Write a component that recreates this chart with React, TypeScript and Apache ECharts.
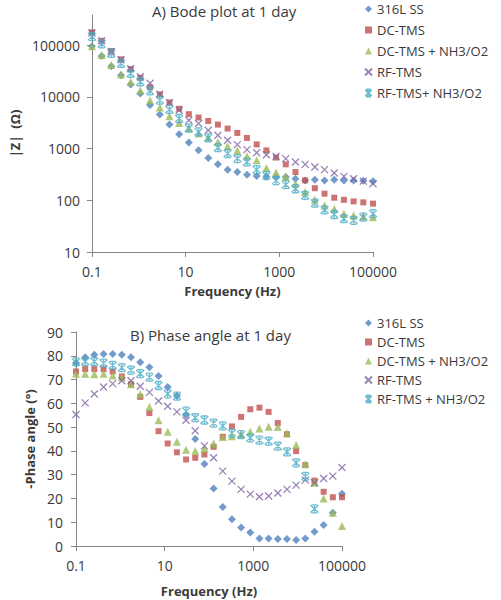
import React, { useEffect, useRef } from "react";
import * as echarts from "echarts";

// Frequencies (Hz), log-spaced sweep from 0.1 Hz to 100 kHz
const frequencies = [
  0.1, 0.161, 0.259, 0.418, 0.672, 1.08, 1.74, 2.81, 4.52, 7.28,
  11.7, 18.9, 30.4, 48.9, 78.8, 127, 204, 329, 530, 853,
  1374, 2212, 3562, 5736, 9237, 14873, 23950, 38566, 62102, 100000,
];

const namesTop = ["316L SS", "DC-TMS", "DC-TMS + NH3/O2", "RF-TMS", "RF-TMS+ NH3/O2"];
const namesBottom = ["316L SS", "DC-TMS", "DC-TMS + NH3/O2", "RF-TMS", "RF-TMS + NH3/O2"];

// |Z| (ohm)
const z316L = [95000, 61000, 39000, 26000, 17300, 11600, 6900, 4550, 2900, 1880, 1300, 923, 655, 494, 390, 351, 312, 293, 289, 285, 280, 261, 242, 250, 242, 250, 242, 242, 238, 232];
const zDC = [176000, 121000, 76600, 52800, 34300, 23300, 15200, 11100, 7760, 5860, 4600, 3970, 3410, 2900, 2430, 2000, 1600, 1200, 920, 670, 494, 351, 242, 171, 134, 112, 102, 95, 91, 86];
const zDCN = [95000, 64000, 41000, 27000, 19500, 13200, 8600, 6200, 4200, 3120, 2450, 1950, 1630, 1340, 1100, 920, 710, 590, 420, 345, 285, 209, 144, 102, 79, 68, 55, 51, 49, 47];
const zRF = [170000, 120000, 75000, 52000, 34800, 24400, 18300, 11200, 7700, 5500, 3520, 3040, 2250, 1800, 1440, 1190, 950, 830, 760, 700, 637, 548, 494, 438, 390, 335, 289, 261, 234, 209];
const zRFN = [145000, 105000, 69000, 44000, 28200, 19500, 13000, 8600, 5680, 3800, 2480, 2090, 1600, 1040, 800, 640, 550, 390, 300, 240, 200, 167, 124, 88, 65, 53, 44, 41, 47, 55];

// -Phase angle (deg)
const p316L = [77, 79.4, 80.4, 80.8, 80.8, 80.4, 79.4, 77.3, 75.2, 71.5, 66.9, 63.2, 55.1, 45, 34.5, 24.2, 16.4, 11.3, 7.8, 5.7, 3.2, 3.2, 2.9, 2.9, 2.5, 3.2, 6, 8.8, 14, 22];
const pDC = [73.4, 74.4, 74.4, 74.4, 73.4, 71.3, 68, 62.7, 55.9, 48.3, 43.1, 39.4, 36.4, 37.1, 38.5, 41.7, 45.9, 50.3, 54.3, 57.5, 58.2, 56.4, 51.7, 47, 39.9, 34, 27.5, 22.8, 20.5, 20.5];
const pDCN = [72.4, 72.4, 72.2, 72.4, 71.7, 71, 68, 63.8, 58.5, 52.9, 48, 43.8, 40.5, 40, 41, 43.1, 45.8, 46.2, 47, 48, 49.4, 50.1, 50, 47.4, 42.5, 34.5, 26.6, 20, 14, 8.4];
const pRF = [55.3, 60.2, 63.9, 66.9, 68.3, 69.5, 69.5, 67.2, 64.6, 61, 58.8, 56.4, 52.9, 48.5, 42.1, 37.1, 31.5, 27.3, 23.8, 21.8, 20.7, 21, 22.3, 23.8, 25.6, 27.7, 26.6, 28.4, 29.4, 33];
const pRFN = [77.4, 77.6, 77.6, 76.9, 76, 75, 74, 72.5, 71, 67.5, 64, 63, 56.7, 54, 53, 51.7, 50.5, 47.5, 46.8, 45.5, 44.5, 44.1, 42, 39.6, 35, 29.3, 15.6, null, null, null];

const freqTicks = [0.1, 10, 1000, 100000];
const zTicks = [10, 100, 1000, 10000, 100000];

const colors = ["#4F81BD", "#C0504D", "#9BBB59", "#8064A2", "#4BACC6"];
const TEXT = "#3a3a3a";
const AXIS = "#868686";
const FONT = "'Open Sans', 'Liberation Sans', sans-serif";

const symX = "path://M1,1L9,9M9,1L1,9";
const symStar = "path://M1,1L9,9M9,1L1,9M5,1L5,9M2,0.5L8,0.5M2,9.5L8,9.5";

function pairs(ys: (number | null)[]) {
  return frequencies.map((f, i) => (ys[i] == null ? [f, "-"] : [f, ys[i]]));
}

function fmtTick(v: number, list: number[]) {
  let best = list[0];
  for (const t of list) if (Math.abs(Math.log10(t) - Math.log10(v)) < Math.abs(Math.log10(best) - Math.log10(v))) best = t;
  return String(best);
}

function makeSeries(names: string[], data: (number | null)[][], axis: number) {
  const symbols = ["diamond", "rect", "triangle", symX, symStar];
  const sizes = [8, 6, 8, 7, 8];
  return names.map((name, i) => {
    const isLine = i >= 3;
    return {
      name,
      type: "scatter",
      xAxisIndex: axis,
      yAxisIndex: axis,
      symbol: symbols[i],
      symbolSize: sizes[i],
      data: pairs(data[i]),
      itemStyle: isLine
        ? { color: colors[i], borderColor: colors[i], borderWidth: 1.3 }
        : { color: colors[i] },
      emphasis: { disabled: true },
    };
  });
}

export default function App() {
  const ref = useRef<HTMLDivElement>(null);
  useEffect(() => {
    if (!ref.current) return;
    const chart = echarts.init(ref.current, undefined, { renderer: "svg" });
    const axisCommon = {
      axisLine: { show: true, lineStyle: { color: AXIS, width: 1 } },
      axisTick: { show: true, inside: false, length: 5, lineStyle: { color: AXIS } },
      splitLine: { show: false },
      nameTextStyle: { fontFamily: FONT, fontSize: 13, fontWeight: "bold", color: TEXT },
    };
    const legendCommon = {
      orient: "vertical",
      left: 364,
      padding: 0,
      itemWidth: 7,
      itemHeight: 7,
      textStyle: { fontFamily: FONT, fontSize: 13, color: TEXT, lineHeight: 16 },
      selectedMode: false,
    };
    chart.setOption({
      animation: false,
      textStyle: { fontFamily: FONT },
      title: [
        { text: "A) Bode plot at 1 day", left: 152, top: 3, padding: 0, textStyle: { fontFamily: FONT, fontSize: 15, fontWeight: "normal", color: TEXT } },
        { text: "B) Phase angle at 1 day", left: 130, top: 327, padding: 0, textStyle: { fontFamily: FONT, fontSize: 15, fontWeight: "normal", color: TEXT } },
      ],
      legend: [
        { ...legendCommon, top: 1, itemGap: 5, data: namesTop },
        { ...legendCommon, top: 315, itemGap: 3, data: namesBottom },
      ],
      grid: [
        { left: 81, top: 15, width: 292, height: 237 },
        { left: 76, top: 332, width: 266, height: 214 },
      ],
      xAxis: [
        {
          ...axisCommon,
          type: "log",
          gridIndex: 0,
          min: 0.1,
          max: 100000,
          axisTick: { ...axisCommon.axisTick, customValues: freqTicks },
          axisLabel: { customValues: freqTicks, formatter: (v: number) => fmtTick(v, freqTicks), margin: 12, fontSize: 14, color: TEXT, fontFamily: FONT },
          name: "Frequency (Hz)",
          nameLocation: "middle",
          nameGap: 32,
        },
        {
          ...axisCommon,
          type: "log",
          gridIndex: 1,
          min: 0.1,
          max: 100000,
          axisTick: { ...axisCommon.axisTick, customValues: freqTicks },
          axisLabel: { customValues: freqTicks, formatter: (v: number) => fmtTick(v, freqTicks), margin: 12, fontSize: 14, color: TEXT, fontFamily: FONT },
          name: "Frequency (Hz)",
          nameLocation: "middle",
          nameGap: 38,
        },
      ],
      yAxis: [
        {
          ...axisCommon,
          type: "log",
          gridIndex: 0,
          min: 10,
          max: 380000,
          axisTick: { ...axisCommon.axisTick, customValues: zTicks },
          axisLabel: { customValues: zTicks, formatter: (v: number) => fmtTick(v, zTicks), margin: 12, fontSize: 14, color: TEXT, fontFamily: FONT },
          name: "|Z|  (Ω)",
          nameLocation: "middle",
          nameRotate: 90,
          nameGap: 63,
        },
        {
          ...axisCommon,
          type: "value",
          gridIndex: 1,
          min: 0,
          max: 90,
          interval: 10,
          axisLabel: { margin: 13, fontSize: 14, color: TEXT, fontFamily: FONT },
          name: "-Phase angle (°)",
          nameLocation: "middle",
          nameRotate: 90,
          nameGap: 35,
        },
      ],
      series: [
        ...makeSeries(namesTop, [z316L, zDC, zDCN, zRF, zRFN], 0),
        ...makeSeries(namesBottom, [p316L, pDC, pDCN, pRF, pRFN], 1),
      ],
    });
    return () => chart.dispose();
  }, []);
  return <div ref={ref} style={{ position: "absolute", left: 0, top: 0, width: 501, height: 600 }} />;
}
